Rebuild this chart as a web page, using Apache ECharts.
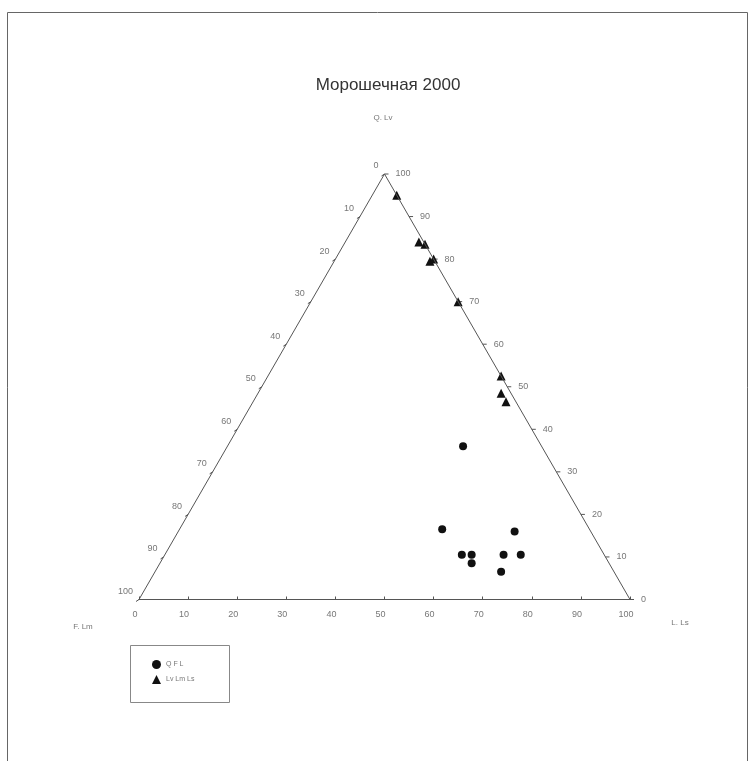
<!DOCTYPE html>
<html lang="ru">
<head>
    <meta charset="UTF-8">
    <title>Морошечная 2000</title>
    <script src="https://cdn.jsdelivr.net/npm/echarts@6/dist/echarts.min.js"></script>
    <style>
        html, body { margin: 0; padding: 0; background: #fff; }
    </style>
</head>
<body>
    <div id="main" style="width: 752px;height:761px;"></div>
    <script>
        // состав по точкам: [верх, левый, правый] в процентах
        var qflPoints = [   // Q, F, L
            [36, 16, 48],
            [16.5, 30, 53.5],
            [16, 15.5, 68.5],
            [10.5, 29, 60.5],
            [10.5, 27, 62.5],
            [8.5, 28, 63.5],
            [10.5, 20.5, 69],
            [10.5, 17, 72.5],
            [6.5, 23, 70.5]
        ];
        var lvPoints = [    // Lv, Lm, Ls
            [95, 0, 5],
            [84, 1, 15],
            [83.5, 0, 16.5],
            [79.5, 1, 19.5],
            [80, 0, 20],
            [70, 0, 30],
            [52.5, 0, 47.5],
            [48.5, 2, 49.5],
            [46.5, 2, 51.5]
        ];
        var tickValues = [0, 10, 20, 30, 40, 50, 60, 70, 80, 90, 100];
        var seriesNames = ['Q F L', 'Lv Lm Ls'];

        var FONT = 'Liberation Sans, Arial, sans-serif';
        var LINE = '#555';

        // треугольные координаты -> декартовы (x: 0..100, y: 0..100 по высоте)
        function toXY(p) {
            var s = p[0] + p[1] + p[2];
            var y = p[0] / s * 100;
            var x = p[2] / s * 100 + y / 2;
            return [x, y];
        }

        var vRight = toXY([0, 0, 100]);
        var vTop = toXY([100, 0, 0]);
        var vLeft = toXY([0, 100, 0]);

        // левая сторона: F (0 у вершины, 100 внизу слева); правая: Q (0 внизу справа, 100 у вершины)
        var leftTicks = tickValues.map(function (v) { return toXY([100 - v, v, 0]).concat([v, 0]); });
        var rightTicks = tickValues.map(function (v) { return toXY([v, 0, 100 - v]).concat([v, 1]); });
        var sideTicks = leftTicks.concat(rightTicks);

        var myChart = echarts.init(document.getElementById('main'));

        var option = {
            animation: false,
            backgroundColor: '#fff',
            title: {
                text: 'Морошечная 2000',
                left: 388,
                top: 77,
                padding: 0,
                textAlign: 'center',
                textStyle: { fontFamily: FONT, fontSize: 17, fontWeight: 'normal', color: '#333' }
            },
            legend: {
                orient: 'vertical',
                left: 152,
                top: 660,
                itemWidth: 9,
                itemHeight: 9,
                itemGap: 6,
                padding: 0,
                data: seriesNames,
                textStyle: { fontFamily: FONT, fontSize: 7, color: '#777' }
            },
            grid: { left: 139, top: 174, width: 491, height: 425.5 },
            xAxis: {
                type: 'value', min: 0, max: 100, interval: 10,
                splitLine: { show: false },
                axisLine: { lineStyle: { color: LINE, width: 1 } },
                axisTick: { inside: true, length: 3, lineStyle: { color: LINE } },
                axisLabel: { fontFamily: FONT, fontSize: 9, color: '#777', margin: 11, padding: [0, 8, 0, 0] }
            },
            yAxis: {
                type: 'value', min: 0, max: 100, show: false
            },
            graphic: [
                { type: 'rect', shape: { x: 7.5, y: 12.5, width: 740, height: 800 },
                  style: { fill: null, stroke: '#666', lineWidth: 1 }, silent: true },
                { type: 'rect', shape: { x: 130.5, y: 645.5, width: 99, height: 57 },
                  style: { fill: null, stroke: '#888', lineWidth: 1 }, silent: true },
                { type: 'text', x: 383, y: 118, style: { text: 'Q. Lv', font: '8px ' + FONT, fill: '#777', align: 'center', verticalAlign: 'middle' } },
                { type: 'text', x: 83, y: 627, style: { text: 'F. Lm', font: '8px ' + FONT, fill: '#777', align: 'center', verticalAlign: 'middle' } },
                { type: 'text', x: 680, y: 623, style: { text: 'L. Ls', font: '8px ' + FONT, fill: '#777', align: 'center', verticalAlign: 'middle' } }
            ],
            series: [
                {
                    type: 'line',
                    data: [vLeft, vTop, vRight, vLeft],
                    symbol: 'none',
                    lineStyle: { color: LINE, width: 1 },
                    silent: true
                },
                {
                    type: 'custom',
                    data: sideTicks,
                    silent: true,
                    renderItem: function (params, api) {
                        var pt = api.coord([api.value(0), api.value(1)]);
                        var side = api.value(3);
                        var label = String(api.value(2));
                        if (side === 0) {
                            return {
                                type: 'group',
                                children: [
                                    { type: 'line', shape: { x1: pt[0], y1: pt[1], x2: pt[0] - 3, y2: pt[1] + 2 },
                                      style: { stroke: LINE, lineWidth: 1 } },
                                    { type: 'text', x: pt[0] - 6, y: pt[1] - 8,
                                      style: { text: label, font: '9px ' + FONT, fill: '#777', align: 'right', verticalAlign: 'middle' } }
                                ]
                            };
                        }
                        return {
                            type: 'group',
                            children: [
                                { type: 'line', shape: { x1: pt[0], y1: pt[1], x2: pt[0] + 4, y2: pt[1] },
                                  style: { stroke: LINE, lineWidth: 1 } },
                                { type: 'text', x: pt[0] + 11, y: pt[1],
                                  style: { text: label, font: '9px ' + FONT, fill: '#777', align: 'left', verticalAlign: 'middle' } }
                            ]
                        };
                    }
                },
                {
                    name: seriesNames[0],
                    type: 'scatter',
                    data: qflPoints.map(toXY),
                    symbol: 'circle',
                    symbolSize: 8,
                    itemStyle: { color: '#111', opacity: 1 }
                },
                {
                    name: seriesNames[1],
                    type: 'scatter',
                    data: lvPoints.map(toXY),
                    symbol: 'triangle',
                    symbolSize: 9,
                    itemStyle: { color: '#111', opacity: 1 }
                }
            ]
        };
        myChart.setOption(option);
    </script>
</body>
</html>
